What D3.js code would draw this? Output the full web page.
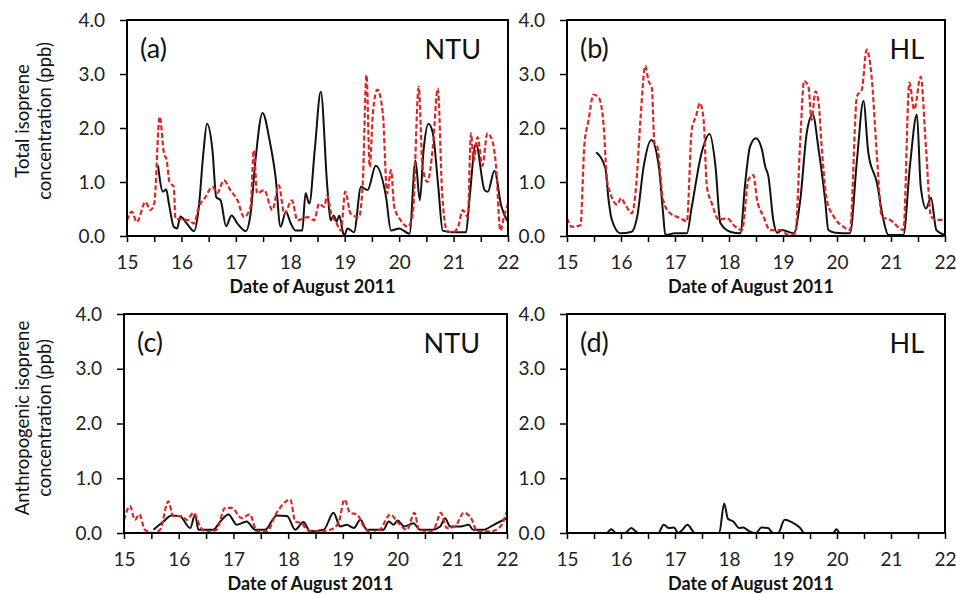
<!DOCTYPE html>
<html>
<head>
  <script src="https://d3js.org/d3.v7.min.js"></script>
  <style>
    body { margin: 0; background: #fff; }
    svg { font-family: Lato, "Open Sans", sans-serif; }
  </style>
</head>
<body>
  <div id="chart"></div>

  <script>
    // tick values
    var dayTicks = [15, 16, 17, 18, 19, 20, 21, 22];
    var halfDayTicks = d3.range(15, 22.01, 0.5);
    var concTicks = [0, 1, 2, 3, 4];

    // (a) NTU total isoprene [day, ppb]
    var ntuTotalObs = [[15.57,1.31],[15.66,0.82],[15.72,0.86],[15.77,0.6],[15.86,0.17],[15.92,0.14],[15.98,0.36],[16.1,0.23],[16.23,0.09],
      [16.32,0.54],[16.4,1.5],[16.47,2.08],[16.57,1.59],[16.64,0.72],[16.72,0.66],[16.82,0.18],[16.92,0.38],[17.03,0.23],[17.18,0.09],
      [17.27,0.41],[17.36,1.4],[17.49,2.28],[17.62,1.77],[17.73,1.09],[17.82,0.17],[17.92,0.45],[18.01,0.23],[18.1,0.1],[18.22,0.1],
      [18.28,0.79],[18.35,0.6],[18.45,1.6],[18.56,2.67],[18.68,0.91],[18.74,0.29],[18.8,0.38],[18.85,0.27],[18.9,0.38],[18.99,0.0],
      [19.05,0.14],[19.17,0.07],[19.3,0.91],[19.42,0.85],[19.57,1.3],[19.76,0.72],[19.85,0.1],[20.0,0.14],[20.19,0.04],[20.3,1.4],
      [20.38,0.66],[20.45,1.6],[20.54,2.08],[20.62,1.9],[20.72,0.9],[20.8,0.1],[20.99,0.07],[21.23,0.07],[21.29,0.66],[21.41,1.71],
      [21.57,0.85],[21.63,0.82],[21.75,1.21],[21.88,0.54],[22.0,0.26]];
    var ntuTotalModel = [[15.0,0.29],[15.09,0.45],[15.18,0.26],[15.34,0.63],[15.43,0.48],[15.5,0.6],[15.6,2.21],[15.68,1.53],[15.73,1.4],
      [15.78,1.0],[15.86,0.91],[15.89,0.32],[16.14,0.29],[16.23,0.23],[16.32,0.54],[16.44,0.72],[16.57,0.91],[16.66,0.8],[16.78,1.03],
      [16.9,0.85],[17.03,0.66],[17.15,0.35],[17.27,0.54],[17.33,1.59],[17.39,0.79],[17.52,0.85],[17.67,0.48],[17.79,0.94],[17.89,0.41],
      [18.03,0.66],[18.13,0.29],[18.32,0.35],[18.44,0.29],[18.53,0.6],[18.62,0.54],[18.68,0.75],[18.75,0.42],[18.84,0.26],[18.93,0.1],
      [19.01,0.82],[19.11,0.41],[19.26,0.35],[19.33,0.94],[19.4,2.98],[19.46,1.28],[19.52,2.3],[19.6,2.71],[19.7,2.27],[19.78,0.79],
      [19.85,1.22],[19.91,0.54],[20.03,0.29],[20.16,0.17],[20.25,0.41],[20.36,2.76],[20.43,1.28],[20.52,1.0],[20.62,1.65],[20.71,2.73],
      [20.79,0.79],[20.88,0.1],[20.99,0.07],[21.08,0.16],[21.17,0.48],[21.26,0.35],[21.32,1.9],[21.37,1.4],[21.44,1.83],[21.53,1.3],
      [21.62,1.9],[21.71,1.77],[21.78,1.3],[21.86,0.1],[21.94,0.41],[22.0,0.6]];

    // (b) HL total isoprene
    var hlTotalObs = [[15.54,1.55],[15.71,1.26],[15.77,0.67],[15.83,0.3],[15.99,0.05],[16.2,0.08],[16.3,0.36],[16.42,1.29],[16.56,1.78],
      [16.7,1.29],[16.78,0.42],[16.82,0.02],[17.0,0.05],[17.22,0.05],[17.31,0.54],[17.5,1.57],[17.64,1.89],[17.75,1.29],[17.84,0.24],
      [18.02,0.08],[18.21,0.05],[18.3,0.98],[18.39,1.66],[18.5,1.81],[18.61,1.6],[18.67,1.29],[18.73,1.1],[18.82,0.3],[18.89,0.06],
      [18.98,0.11],[19.2,0.05],[19.32,0.67],[19.44,1.91],[19.55,2.25],[19.66,1.6],[19.78,0.67],[19.84,0.11],[19.97,0.06],[20.24,0.05],
      [20.37,1.41],[20.49,2.5],[20.58,1.54],[20.74,0.98],[20.86,0.3],[20.95,0.02],[21.23,0.02],[21.35,1.29],[21.48,2.25],[21.55,0.92],
      [21.65,0.51],[21.74,0.71],[21.84,0.11],[22.0,0.02]];
    var hlTotalModel = [[15.0,0.33],[15.09,0.17],[15.25,0.2],[15.32,1.66],[15.4,2.15],[15.49,2.62],[15.59,2.56],[15.68,2.03],[15.74,1.04],
      [15.8,0.8],[15.93,0.58],[16.0,0.7],[16.08,0.58],[16.2,0.42],[16.28,0.92],[16.36,2.15],[16.45,3.15],[16.51,2.87],[16.57,2.75],
      [16.62,1.72],[16.67,1.66],[16.78,0.67],[16.91,0.42],[17.1,0.33],[17.22,0.27],[17.31,1.97],[17.39,2.22],[17.46,2.46],[17.53,2.15],
      [17.59,0.92],[17.68,0.61],[17.81,0.3],[17.96,0.33],[18.12,0.17],[18.24,0.11],[18.36,1.04],[18.45,1.13],[18.52,0.67],[18.64,0.36],
      [18.76,0.11],[18.95,0.11],[19.1,0.02],[19.23,0.05],[19.32,1.78],[19.39,2.87],[19.47,2.77],[19.53,2.15],[19.6,2.68],[19.66,2.46],
      [19.72,1.6],[19.81,0.67],[19.94,0.36],[20.12,0.17],[20.24,0.11],[20.37,2.59],[20.46,2.71],[20.55,3.45],[20.64,2.96],[20.74,1.47],
      [20.83,0.36],[20.98,0.3],[21.23,0.11],[21.34,2.84],[21.43,2.34],[21.55,2.95],[21.65,1.6],[21.74,0.36],[21.85,0.3],[22.0,0.3]];

    // (c) NTU anthropogenic isoprene
    var ntuAnthroObs = [[15.54,0.06],[15.72,0.21],[15.87,0.32],[16.02,0.31],[16.21,0.09],[16.3,0.34],[16.36,0.06],[16.63,0.06],[16.76,0.21],
      [16.91,0.34],[17.06,0.15],[17.24,0.21],[17.4,0.06],[17.58,0.06],[17.79,0.32],[17.98,0.31],[18.13,0.06],[18.28,0.2],[18.4,0.03],
      [18.65,0.06],[18.83,0.37],[18.95,0.12],[19.07,0.15],[19.2,0.09],[19.32,0.24],[19.44,0.06],[19.74,0.06],[19.84,0.21],[19.93,0.15],
      [20.0,0.23],[20.12,0.12],[20.29,0.18],[20.41,0.06],[20.63,0.06],[20.78,0.12],[20.87,0.27],[20.96,0.12],[21.15,0.12],[21.3,0.15],
      [21.38,0.06],[21.57,0.06],[21.76,0.15],[22.0,0.27]];
    var ntuAnthroModel = [[15.0,0.24],[15.11,0.49],[15.2,0.24],[15.28,0.34],[15.38,0.06],[15.54,0.0],[15.66,0.06],[15.81,0.58],[15.9,0.31],
      [16.05,0.31],[16.15,0.24],[16.27,0.37],[16.39,0.12],[16.51,0.01],[16.69,0.06],[16.85,0.46],[16.97,0.46],[17.15,0.27],[17.3,0.34],
      [17.43,0.03],[17.61,0.03],[17.79,0.37],[18.04,0.61],[18.13,0.21],[18.25,0.18],[18.34,0.06],[18.52,0.03],[18.77,0.06],[18.92,0.18],
      [19.03,0.61],[19.13,0.37],[19.26,0.34],[19.38,0.12],[19.53,0.0],[19.68,0.06],[19.87,0.34],[19.99,0.21],[20.17,0.06],[20.31,0.37],
      [20.39,0.06],[20.6,0.03],[20.69,0.12],[20.79,0.37],[20.9,0.09],[21.05,0.12],[21.21,0.37],[21.36,0.24],[21.45,0.03],[21.7,0.03],
      [21.88,0.12],[22.0,0.4]];

    // (d) HL anthropogenic isoprene
    var hlAnthroObs = [[15.0,0],[15.73,0],[15.82,0.07],[15.91,0],[16.07,0],[16.19,0.09],[16.32,0],[16.69,0],[16.79,0.15],[16.89,0.09],
      [16.98,0.1],[17.06,0],[17.12,0.04],[17.23,0.15],[17.37,0],[17.82,0],[17.91,0.54],[17.98,0.26],[18.08,0.21],[18.19,0.09],[18.26,0.1],
      [18.38,0.03],[18.5,0],[18.6,0.1],[18.72,0.09],[18.82,0],[18.91,0],[19.03,0.24],[19.16,0.2],[19.31,0.1],[19.4,0],[19.93,0],
      [19.99,0.07],[20.05,0],[22.0,0]];
    var hlAnthroModel = [[15.0,0],[16.0,0],[17.0,0],[18.0,0],[19.0,0],[20.0,0],[21.0,0],[22.0,0]];

    var panels = [
      { tag: "(a)", site: "NTU", obs: ntuTotalObs, model: ntuTotalModel, left: 127, top: 20, right: 508, bottom: 236 },
      { tag: "(b)", site: "HL", obs: hlTotalObs, model: hlTotalModel, left: 567, top: 20, right: 945, bottom: 236 },
      { tag: "(c)", site: "NTU", obs: ntuAnthroObs, model: ntuAnthroModel, left: 124, top: 314, right: 507, bottom: 533 },
      { tag: "(d)", site: "HL", obs: hlAnthroObs, model: hlAnthroModel, left: 567, top: 314, right: 945, bottom: 533 }
    ];

    var svg = d3.select("#chart")
      .append("svg")
      .attr("width", 956)
      .attr("height", 594);

    panels.forEach(function(p, i) {
      var w = p.right - p.left;
      var h = p.bottom - p.top;
      var x = d3.scaleLinear().domain([15, 22]).range([0, w]);
      var y = d3.scaleLinear().domain([0, 4]).range([h, 0]);

      var g = svg.append("g")
        .attr("transform", "translate(" + p.left + "," + p.top + ")");

      var clipId = "clip" + i;
      g.append("clipPath").attr("id", clipId)
        .append("rect").attr("x", 0).attr("y", -2).attr("width", w).attr("height", h + 2);

      var line = d3.line()
        .x(function(d) { return x(d[0]); })
        .y(function(d) { return y(d[1]); })
        .curve(d3.curveMonotoneX);

      // black = observed, red dashed = model
      g.append("path")
        .datum(p.obs)
        .attr("clip-path", "url(#" + clipId + ")")
        .attr("d", line)
        .attr("fill", "none")
        .attr("stroke", "#111")
        .attr("stroke-width", 2);

      g.append("path")
        .datum(p.model)
        .attr("clip-path", "url(#" + clipId + ")")
        .attr("d", line)
        .attr("fill", "none")
        .attr("stroke", "#dc2626")
        .attr("stroke-width", 2.2)
        .attr("stroke-dasharray", "5,2.5");

      // x axis: half-day ticks, labels on whole days
      var xAxis = g.append("g")
        .attr("transform", "translate(0," + h + ")")
        .call(d3.axisBottom(x).tickValues(halfDayTicks).tickSizeInner(6).tickSizeOuter(0)
          .tickFormat(function(d) { return dayTicks.indexOf(d) >= 0 ? d : ""; }));
      xAxis.select(".domain").remove();
      xAxis.selectAll("line").attr("stroke", "#000").attr("stroke-width", 1.5);
      xAxis.selectAll("text")
        .attr("dy", 0).attr("y", 33)
        .style("font-size", "19px").style("fill", "#222").style("font-family", "Lato");

      var yAxis = g.append("g")
        .call(d3.axisLeft(y).tickValues(concTicks).tickSizeInner(7).tickSizeOuter(0)
          .tickFormat(d3.format(".1f")));
      yAxis.select(".domain").remove();
      yAxis.selectAll("line").attr("stroke", "#000").attr("stroke-width", 1.5);
      yAxis.selectAll("text")
        .attr("x", -22)
        .style("font-size", "19px").style("fill", "#222").style("font-family", "Lato");

      // frame
      g.append("rect")
        .attr("width", w).attr("height", h)
        .attr("fill", "none").attr("stroke", "#000").attr("stroke-width", 2);

      g.append("text")
        .attr("x", 13).attr("y", 38)
        .style("font-size", "27px").style("fill", "#111")
        .text(p.tag);

      g.append("text")
        .attr("x", w - (p.site === "HL" ? 21 : 27)).attr("y", 39)
        .attr("text-anchor", "end")
        .style("font-size", "27px").style("fill", "#111")
        .text(p.site);

      g.append("text")
        .attr("x", w / 2 - 5).attr("y", h + 57)
        .attr("text-anchor", "middle")
        .style("font-size", "18px").style("font-weight", "bold").style("fill", "#111")
        .text("Date of August 2011");
    });

    // y axis titles
    var yTitles = [
      { lines: ["Total isoprene", "concentration (ppb)"], cy: 121 },
      { lines: ["Anthropogenic isoprene", "concentration (ppb)"], cy: 418 }
    ];
    yTitles.forEach(function(t) {
      t.lines.forEach(function(s, j) {
        svg.append("text")
          .attr("transform", "translate(" + (29 + j * 22) + "," + t.cy + ") rotate(-90)")
          .attr("text-anchor", "middle")
          .style("font-size", "18.5px").style("fill", "#111")
          .text(s);
      });
    });
  </script>
</body>
</html>
